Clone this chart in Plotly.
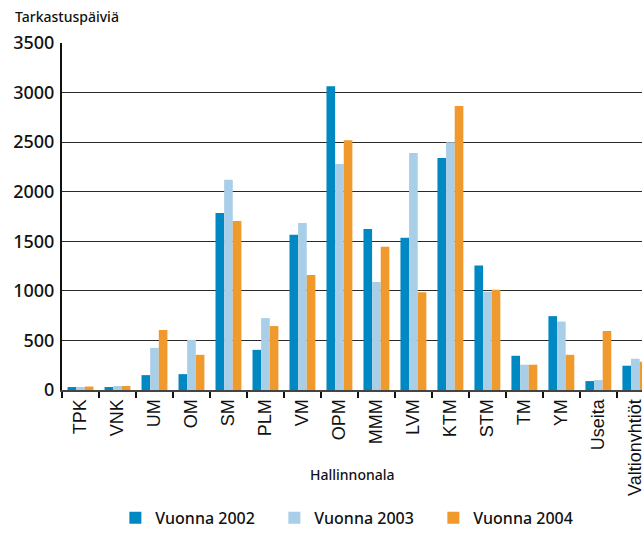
import plotly.graph_objects as go

categories = ["TPK", "VNK", "UM", "OM", "SM", "PLM", "VM", "OPM", "MMM", "LVM",
              "KTM", "STM", "TM", "YM", "Useita", "Valtionyhtiöt"]
v2002 = [30, 30, 150, 160, 1785, 405, 1565, 3065, 1625, 1535, 2340, 1255, 345, 745, 90, 245]
v2003 = [30, 40, 425, 505, 2120, 725, 1685, 2280, 1090, 2390, 2500, 990, 255, 690, 100, 315]
v2004 = [35, 40, 605, 355, 1705, 645, 1160, 2520, 1445, 985, 2865, 1010, 255, 355, 595, 285]
series_names = ["Vuonna 2002", "Vuonna 2003", "Vuonna 2004"]
colors = ["#0088C2", "#A9CEE8", "#F0992D"]

fig = go.Figure()
for name, vals, c in zip(series_names, [v2002, v2003, v2004], colors):
    fig.add_trace(go.Bar(x=categories, y=vals, name=name, marker=dict(color=c, line=dict(width=0))))

fig.update_layout(
    width=642, height=535,
    margin=dict(l=62, r=0, t=43, b=145, autoexpand=False),
    paper_bgcolor="white", plot_bgcolor="white",
    barmode="group", bargap=0.3, bargroupgap=0,
    font=dict(family="Liberation Sans, Arial, sans-serif", color="#111"),
    showlegend=True,
    legend=dict(orientation="h", x=0.092, xanchor="left", y=-0.4175, yanchor="bottom",
                font=dict(size=16, family="Noto Sans, sans-serif", weight=500),
                entrywidth=114, entrywidthmode="pixels", itemsizing="constant",
                traceorder="normal", bgcolor="rgba(0,0,0,0)"),
    xaxis=dict(
        type="category", range=[-0.5, 15.18], automargin=False,
        showline=True, linecolor="#444", linewidth=2,
        ticks="outside", tickson="boundaries", ticklen=6, tickcolor="#111", tickwidth=1.5,
        tickangle=-90, tickfont=dict(size=18, family="Liberation Sans, Arial, sans-serif"),
        showgrid=False,
    ),
    yaxis=dict(
        range=[0, 3500], tickvals=[0, 500, 1000, 1500, 2000, 2500, 3000, 3500],
        automargin=False,
        showline=True, linecolor="#111", linewidth=2,
        showgrid=True, gridcolor="#2a2a2a", gridwidth=1,
        zeroline=False,
        tickfont=dict(size=18, family="Noto Sans, sans-serif", weight=500),
        ticks="", ticklabelstandoff=2,
    ),
)

fig.add_annotation(text="Tarkastuspäiviä", xref="paper", yref="paper", x=-0.085, y=1.0,
                   xanchor="left", yanchor="bottom", yshift=15, showarrow=False,
                   font=dict(size=14, family="Noto Sans, sans-serif", color="#111", weight=500))
fig.add_annotation(text="Hallinnonala", xref="paper", yref="paper", x=0.5, y=0.0,
                   xanchor="center", yanchor="middle", yshift=-84, showarrow=False,
                   font=dict(size=14, family="Noto Sans, sans-serif", color="#111", weight=500))

fig.write_html("out.html", config={"displayModeBar": False},
               post_script="document.body.style.margin='0px';document.body.style.overflow='hidden';")
